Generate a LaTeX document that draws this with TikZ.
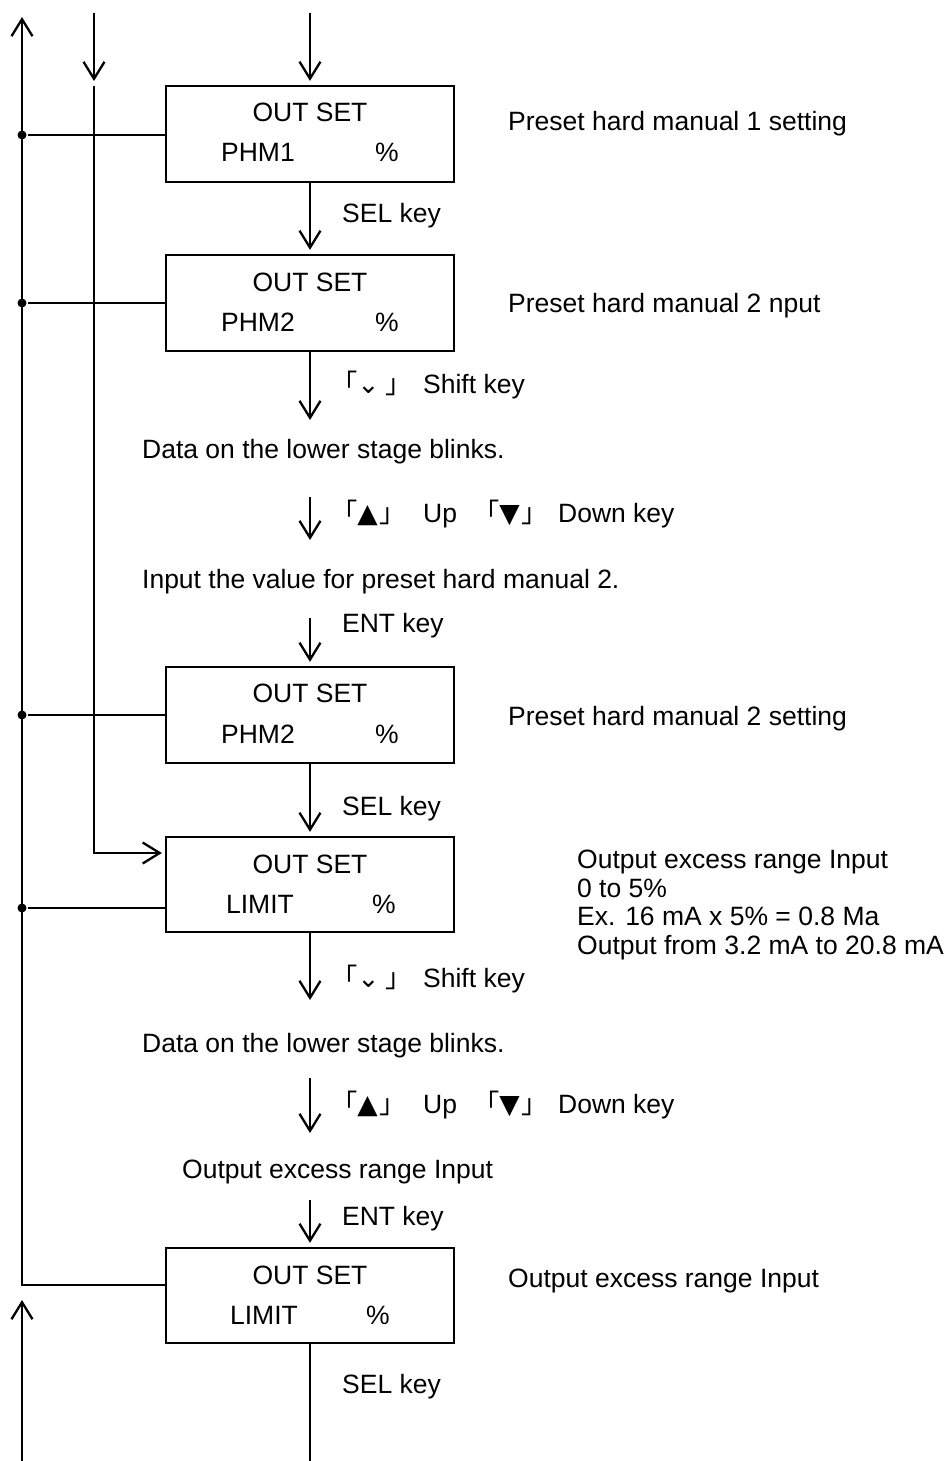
\documentclass[tikz,border=0pt]{standalone}
\usepackage{fontspec}
\setmainfont{Liberation Sans}
\newfontfamily\cjk{Noto Sans CJK JP}
\newfontfamily\dv{DejaVu Sans}
\usetikzlibrary{arrows.meta}
\begin{document}
\begin{tikzpicture}[x=1pt,y=-1pt,line width=2.3pt,
  every node/.style={font=\fontsize{26.5}{28.7}\selectfont},
  box/.style={draw,rectangle,minimum width=288pt,minimum height=96pt,inner sep=0pt},
  txt/.style={inner sep=0pt,anchor=base west},
  ctxt/.style={inner sep=0pt,anchor=base},
  arr/.style={-{Straight Barb[length=17pt,width=21pt]}},
  jdot/.style={circle,fill,inner sep=0pt,minimum size=9pt}]
\useasboundingbox (0,0) rectangle (947,1461);

% boxes
\node[box] (b1) at (310,134) {};
\node[box] (b2) at (310,303) {};
\node[box] (b3) at (310,715) {};
\node[box,minimum height=95pt] (b4) at (310,884.5) {};
\node[box,minimum height=95pt] (b5) at (310,1295.5) {};

% box contents
\node[ctxt] (t1a) at (310,122) {OUT SET};
\node[ctxt] (t1b) at (258,161) {PHM1};
\node[ctxt] (t1c) at (387,161) {\%};
\node[ctxt] (t2a) at (310,291) {OUT SET};
\node[ctxt] (t2b) at (258,331) {PHM2};
\node[ctxt] (t2c) at (387,331) {\%};
\node[ctxt] (t3a) at (310,702) {OUT SET};
\node[ctxt] (t3b) at (258,743) {PHM2};
\node[ctxt] (t3c) at (387,743) {\%};
\node[ctxt] (t4a) at (310,873) {OUT SET};
\node[ctxt] (t4b) at (260,913) {LIMIT};
\node[ctxt] (t4c) at (384,913) {\%};
\node[ctxt] (t5a) at (310,1284) {OUT SET};
\node[ctxt] (t5b) at (264,1324) {LIMIT};
\node[ctxt] (t5c) at (378,1324) {\%};

% main flow
\coordinate (m0) at (310,13);
\draw[arr,shorten >=4pt] (m0) -- (b1.north);
\draw[arr,shorten >=4pt] (b1.south) -- (b2.north);
\coordinate (s1) at (310,420);
\draw[arr] (b2.south) -- (s1);
\coordinate (u1a) at (310,497);
\coordinate (u1b) at (310,540);
\draw[arr] (u1a) -- (u1b);
\coordinate (e1) at (310,618);
\draw[arr,shorten >=4pt] (e1) -- (b3.north);
\draw[arr,shorten >=4pt] (b3.south) -- (b4.north);
\coordinate (s2) at (310,1000);
\draw[arr] (b4.south) -- (s2);
\coordinate (u2a) at (310,1078);
\coordinate (u2b) at (310,1133);
\draw[arr] (u2a) -- (u2b);
\coordinate (e2) at (310,1200);
\draw[arr,shorten >=4pt] (e2) -- (b5.north);
\coordinate (m9) at (310,1461);
\draw (b5.south) -- (m9);

% left return bus
\coordinate (L0) at (22,17);
\coordinate (L5) at (22,1285);
\draw[arr] (b5.west |- L5) -- (L5) -- (L0);
\node[jdot] (d1) at (22,135) {};
\node[jdot] (d2) at (22,303) {};
\node[jdot] (d3) at (22,715) {};
\node[jdot] (d4) at (22,908) {};
\draw (d1) -- (d1 -| b1.west);
\draw (d2) -- (d2 -| b2.west);
\draw (d3) -- (d3 -| b3.west);
\draw (d4) -- (d4 -| b4.west);
\coordinate (Lb) at (22,1461);
\coordinate (Lt) at (22,1300);
\draw[arr] (Lb) -- (Lt);

% second entry line
\coordinate (k0) at (94,13);
\coordinate (k1) at (94,81);
\draw[arr] (k0) -- (k1);
\coordinate (k2) at (94,86);
\coordinate (k3) at (94,853);
\draw[arr,shorten >=3pt] (k2) -- (k3) -- (k3 -| b4.west);

% labels
\node[txt] (l1) at (341,222) {SEL key};
\node[txt] (r1) at (507,131) {Preset hard manual 1 setting};
\node[txt] (r2) at (507,312) {Preset hard manual 2 nput};
\node[txt] (sh1) at (343,393) {{\cjk ｢}{\dv ⌄}\hspace{6pt}{\cjk ｣}};
\node[txt] (sk1) at (422,393) {Shift key};
\node[txt] (dt1) at (141,458) {Data on the lower stage blinks.};
\node[txt] (ua1) at (343,522) {{\cjk ｢}{\dv ▲}\hspace{2pt}{\cjk ｣}};
\node[txt] (up1) at (422,522) {Up};
\node[txt] (da1) at (485,522) {{\cjk ｢}{\dv ▼}\hspace{2pt}{\cjk ｣}};
\node[txt] (dk1) at (557,522) {Down key};
\node[txt] (in1) at (141,588) {Input the value for preset hard manual 2.};
\node[txt] (en1) at (341,632) {ENT key};
\node[txt] (r3) at (507,725) {Preset hard manual 2 setting};
\node[txt] (l2) at (341,815) {SEL key};
\node[txt] (n1) at (576,868) {Output excess range Input};
\node[txt] (n2) at (576,897) {0 to 5\%};
\node[txt] (n3) at (576,925) {Ex. 16 mA x 5\% = 0.8 Ma};
\node[txt] (n4) at (576,954) {Output from 3.2 mA to 20.8 mA};
\node[txt] (sh2) at (343,987) {{\cjk ｢}{\dv ⌄}\hspace{6pt}{\cjk ｣}};
\node[txt] (sk2) at (422,987) {Shift key};
\node[txt] (dt2) at (141,1052) {Data on the lower stage blinks.};
\node[txt] (ua2) at (343,1113) {{\cjk ｢}{\dv ▲}\hspace{2pt}{\cjk ｣}};
\node[txt] (up2) at (422,1113) {Up};
\node[txt] (da2) at (485,1113) {{\cjk ｢}{\dv ▼}\hspace{2pt}{\cjk ｣}};
\node[txt] (dk2) at (557,1113) {Down key};
\node[txt] (oi1) at (181,1178) {Output excess range Input};
\node[txt] (en2) at (341,1225) {ENT key};
\node[txt] (r5) at (507,1287) {Output excess range Input};
\node[txt] (l3) at (341,1393) {SEL key};
\end{tikzpicture}
\end{document}
